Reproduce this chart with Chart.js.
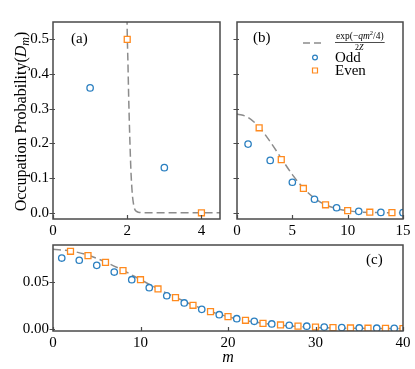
<!DOCTYPE html>
<html><head><meta charset="utf-8">
<script src="https://cdn.jsdelivr.net/npm/chart.js@4/dist/chart.umd.min.js"></script>
<style>
html,body{margin:0;padding:0;background:#fff;}
#wrap{position:relative;width:415px;height:369px;overflow:hidden;}
canvas{position:absolute;left:0;top:0;}
</style></head><body>
<div id="wrap">
<canvas id="ca" width="415" height="369"></canvas>
<canvas id="cb" width="415" height="369"></canvas>
<canvas id="cc" width="415" height="369"></canvas>
</div>
<script>
// ---- Panel (a) data ----
const aOddM = [1, 3];
const aOddP = [0.36, 0.13];
const aEvenM = [2, 4];
const aEvenP = [0.5, 0.0];
const aCurveM = [1.99, 2.0, 2.02, 2.04, 2.06, 2.08, 2.10, 2.12, 2.14, 2.17, 2.20, 2.25, 2.30, 2.40, 4.5];
const aCurveP = [0.60, 0.52, 0.43, 0.33, 0.25, 0.18, 0.12, 0.08, 0.05, 0.025, 0.011, 0.004, 0.0015, 0.0003, 0.0];
const aXTicks = [0, 2, 4];
const abYTicks = [0, 0.1, 0.2, 0.3, 0.4, 0.5];

// ---- Panel (b) data ----
const bOddM = [1, 3, 5, 7, 9, 11, 13, 15];
const bOddP = [0.198, 0.151, 0.088, 0.039, 0.0144, 0.004, 0.001, 0.0003];
const bEvenM = [2, 4, 6, 8, 10, 12, 14];
const bEvenP = [0.245, 0.153, 0.070, 0.023, 0.006, 0.0015, 0.0003];
const bCurveM = [0, 1, 2, 3, 4, 5, 6, 7, 8, 9, 10, 11, 12, 13, 14, 15];
const bCurveP = [0.285, 0.275, 0.247, 0.205, 0.157, 0.110, 0.071, 0.042, 0.023, 0.012, 0.006, 0.0025, 0.001, 0.0005, 0.0002, 0.0001];
const bXTicks = [0, 5, 10, 15];

// ---- Panel (c) data ----
const cOddM = [1, 3, 5, 7, 9, 11, 13, 15, 17, 19, 21, 23, 25, 27, 29, 31, 33, 35, 37, 39];
const cOddP = [0.0763, 0.0739, 0.0684, 0.0612, 0.0529, 0.0443, 0.0356, 0.0278, 0.0209, 0.0151, 0.0108, 0.0080, 0.0051, 0.0037, 0.0027, 0.0017, 0.0012, 0.0008, 0.0005, 0.0003];
const cEvenM = [2, 4, 6, 8, 10, 12, 14, 16, 18, 20, 22, 24, 26, 28, 30, 32, 34, 36, 38, 40];
const cEvenP = [0.0836, 0.0789, 0.0717, 0.0627, 0.0529, 0.0429, 0.0335, 0.0253, 0.0184, 0.0130, 0.0091, 0.0058, 0.0040, 0.0028, 0.0018, 0.0012, 0.0008, 0.0005, 0.0003, 0.0002];
const cCurveM = [0, 2, 4, 6, 8, 10, 12, 14, 16, 18, 20, 22, 24, 26, 28, 30, 32, 34, 36, 38, 40];
const cCurveP = [0.0857, 0.0840, 0.0795, 0.0720, 0.0630, 0.0530, 0.0430, 0.0340, 0.0255, 0.0185, 0.0130, 0.0088, 0.0058, 0.0037, 0.0023, 0.0014, 0.0008, 0.0005, 0.0003, 0.0002, 0.0001];
const cXTicks = [0, 10, 20, 30, 40];
const cYTicks = [0, 0.05];

const labels = { odd: 'Odd', even: 'Even', yTitle: 'Occupation Probability', xTitle: 'm' };

// ---- styling ----
const SERIF = "'Liberation Serif', 'Times New Roman', serif";
const BLUE = '#2a7fc0';
const ORANGE = '#ff8a1e';
const FRAME = '#4a4a4a';
const CURVE = '#8c8c8c';

function pts(xs, ys) { return xs.map((x, i) => ({ x: x, y: ys[i] })); }

function datasets(oM, oP, eM, eP, cM, cP) {
  return [
    { label: labels.odd, data: pts(oM, oP), pointStyle: 'circle', pointRadius: 3.2, pointBorderWidth: 1.3,
      pointBorderColor: BLUE, pointBackgroundColor: '#fff', borderColor: BLUE, showLine: false, order: 0 },
    { label: labels.even, data: pts(eM, eP), pointStyle: 'rect', pointRadius: 4.2, pointBorderWidth: 1.3,
      pointBorderColor: ORANGE, pointBackgroundColor: '#fff', borderColor: ORANGE, showLine: false, order: 0 },
    { label: 'curve', data: pts(cM, cP), showLine: true, pointRadius: 0, borderColor: CURVE, borderWidth: 1.5,
      borderDash: [8, 4], cubicInterpolationMode: 'monotone', fill: false, order: 2 }
  ];
}

// frame + tick marks (x ticks point inward, y ticks cross the frame)
const framePlugin = {
  id: 'frame',
  afterDatasetsDraw(chart) {
    const a = chart.chartArea, ctx = chart.ctx;
    ctx.save();
    ctx.strokeStyle = FRAME; ctx.lineWidth = 1.2;
    ctx.beginPath();
    const xs = chart.scales.x, ys = chart.scales.y;
    xs.ticks.forEach(t => { const px = Math.round(xs.getPixelForValue(t.value)) + 0.5; ctx.moveTo(px, a.bottom); ctx.lineTo(px, a.bottom - 4); });
    ys.ticks.forEach(t => { const py = Math.round(ys.getPixelForValue(t.value)) + 0.5; ctx.moveTo(a.left - 3.5, py); ctx.lineTo(a.left + 2, py); });
    ctx.stroke();
    ctx.lineWidth = 1.5;
    ctx.strokeRect(a.left, a.top, a.right - a.left, a.bottom - a.top);
    ctx.restore();
  }
};

let pid = 0;
function textPlugin(drawFn) {
  pid += 1;
  return { id: 'texts' + pid, afterDraw(chart) { const ctx = chart.ctx; ctx.save(); drawFn(ctx, chart); ctx.restore(); } };
}

function xScale(min, max, ticks, withTitle) {
  return {
    type: 'linear', min: min, max: max, position: 'bottom',
    afterBuildTicks: s => { s.ticks = ticks.map(v => ({ value: v })); },
    afterFit: s => { s.height = withTitle ? 38 : 24; },
    grid: { display: false, drawTicks: false },
    border: { display: false },
    ticks: { color: '#000', padding: 3, maxRotation: 0, autoSkip: false, font: { family: SERIF, size: 15 }, callback: v => String(v) },
    title: withTitle ? { display: true, text: labels.xTitle, color: '#000', padding: { top: 0, bottom: 2 }, font: { family: SERIF, size: 16, style: 'italic' } } : { display: false }
  };
}

function yScale(min, max, ticks, width, showLabels, decimals) {
  return {
    type: 'linear', min: min, max: max,
    afterBuildTicks: s => { s.ticks = ticks.map(v => ({ value: v })); },
    afterFit: s => { s.width = width; },
    grid: { display: false, drawTicks: false },
    border: { display: false },
    ticks: { display: showLabels, color: '#000', padding: 4, autoSkip: false, font: { family: SERIF, size: 15 }, callback: v => v.toFixed(decimals) }
  };
}

function baseOpts(pad, scales) {
  return {
    responsive: false, animation: false, devicePixelRatio: 1,
    layout: { padding: pad },
    plugins: { legend: { display: false }, tooltip: { enabled: false } },
    scales: scales
  };
}

// Panel (a): plot area 53..220 x 22..219
new Chart(document.getElementById('ca'), {
  type: 'scatter',
  data: { datasets: datasets(aOddM, aOddP, aEvenM, aEvenP, aCurveM, aCurveP) },
  options: baseOpts({ left: 8, top: 22, right: 415 - 220, bottom: 369 - 219 - 24 },
    { x: xScale(0, 4.5, aXTicks, false), y: yScale(-0.018, 0.55, abYTicks, 45, true, 1) }),
  plugins: [framePlugin, textPlugin((ctx, chart) => {
    ctx.fillStyle = '#000';
    ctx.font = '15px ' + SERIF;
    ctx.textBaseline = 'middle'; ctx.textAlign = 'left';
    ctx.fillText('(a)', 71, 39);
    // rotated y title
    const a = chart.chartArea;
    ctx.translate(21, (a.top + a.bottom) / 2 + 1);
    ctx.rotate(-Math.PI / 2);
    const f1 = '16px ' + SERIF, fi = 'italic 16px ' + SERIF, fs = 'italic 12px ' + SERIF;
    ctx.font = f1; const w1 = ctx.measureText(labels.yTitle + '(').width;
    ctx.font = fi; const w2 = ctx.measureText('D').width;
    ctx.font = fs; const w3 = ctx.measureText('m').width;
    ctx.font = f1; const w4 = ctx.measureText(')').width;
    let x = -(w1 + w2 + w3 + w4) / 2;
    ctx.textBaseline = 'alphabetic';
    ctx.font = f1; ctx.fillText(labels.yTitle + '(', x, 5); x += w1;
    ctx.font = fi; ctx.fillText('D', x, 5); x += w2;
    ctx.font = fs; ctx.fillText('m', x, 8); x += w3;
    ctx.font = f1; ctx.fillText(')', x, 5);
  })]
});

// Panel (b): plot area 237..403 x 22..219
new Chart(document.getElementById('cb'), {
  type: 'scatter',
  data: { datasets: datasets(bOddM, bOddP, bEvenM, bEvenP, bCurveM, bCurveP) },
  options: baseOpts({ left: 227, top: 22, right: 415 - 403, bottom: 369 - 219 - 24 },
    { x: xScale(0, 15, bXTicks, false), y: yScale(-0.018, 0.55, abYTicks, 10, false, 1) }),
  plugins: [framePlugin, textPlugin((ctx) => {
    ctx.fillStyle = '#000';
    ctx.font = '15px ' + SERIF;
    ctx.textBaseline = 'middle'; ctx.textAlign = 'left';
    ctx.fillText('(b)', 253, 38);
    // legend: dashed curve sample
    ctx.strokeStyle = CURVE; ctx.lineWidth = 1.5; ctx.setLineDash([7, 4]);
    ctx.beginPath(); ctx.moveTo(303, 43); ctx.lineTo(325, 43); ctx.stroke();
    ctx.setLineDash([]);
    // fraction exp(-qm^2/4) / 2Z
    const fn = '9.5px ' + SERIF, fni = 'italic 9.5px ' + SERIF, fsup = '6.5px ' + SERIF;
    const fd = '8px ' + SERIF, fdi = 'italic 8px ' + SERIF;
    const segs = [[fn, 'exp(\u2212', 0], [fni, 'qm', 0], [fsup, '2', -3], [fn, '/4)', 0]];
    let x = 336; const yN = 36.5;
    ctx.textBaseline = 'middle';
    segs.forEach(s => { ctx.font = s[0]; ctx.fillText(s[1], x, yN + s[2]); x += ctx.measureText(s[1]).width; });
    const xEnd = x;
    ctx.strokeStyle = '#000'; ctx.lineWidth = 0.7;
    ctx.beginPath(); ctx.moveTo(335, 42.5); ctx.lineTo(xEnd + 1, 42.5); ctx.stroke();
    ctx.font = fd; const w2 = ctx.measureText('2').width; ctx.font = fdi; const wZ = ctx.measureText('Z').width;
    let xd = (335 + xEnd) / 2 - (w2 + wZ) / 2;
    ctx.font = fd; ctx.fillText('2', xd, 47.5); ctx.font = fdi; ctx.fillText('Z', xd + w2, 47.5);
    // Odd / Even markers
    ctx.lineWidth = 1.2;
    ctx.strokeStyle = BLUE; ctx.fillStyle = '#fff';
    ctx.beginPath(); ctx.arc(315, 57.5, 2.4, 0, Math.PI * 2); ctx.fill(); ctx.stroke();
    ctx.strokeStyle = ORANGE;
    ctx.beginPath(); ctx.rect(312.5, 68, 5, 5); ctx.fill(); ctx.stroke();
    ctx.fillStyle = '#000';
    ctx.font = '15px ' + SERIF;
    ctx.fillText(labels.odd, 335, 58);
    ctx.fillText(labels.even, 335, 71);
  })]
});

// Panel (c): plot area 53..403 x 245..331
new Chart(document.getElementById('cc'), {
  type: 'scatter',
  data: { datasets: datasets(cOddM, cOddP, cEvenM, cEvenP, cCurveM, cCurveP) },
  options: baseOpts({ left: 8, top: 245, right: 415 - 403, bottom: 369 - 331 - 38 },
    { x: xScale(0, 40, cXTicks, true), y: yScale(-0.0025, 0.0904, cYTicks, 45, true, 2) }),
  plugins: [framePlugin, textPlugin((ctx) => {
    ctx.fillStyle = '#000';
    ctx.font = '15px ' + SERIF;
    ctx.textBaseline = 'middle'; ctx.textAlign = 'left';
    ctx.fillText('(c)', 366, 260);
  })]
});
</script>
</body></html>
